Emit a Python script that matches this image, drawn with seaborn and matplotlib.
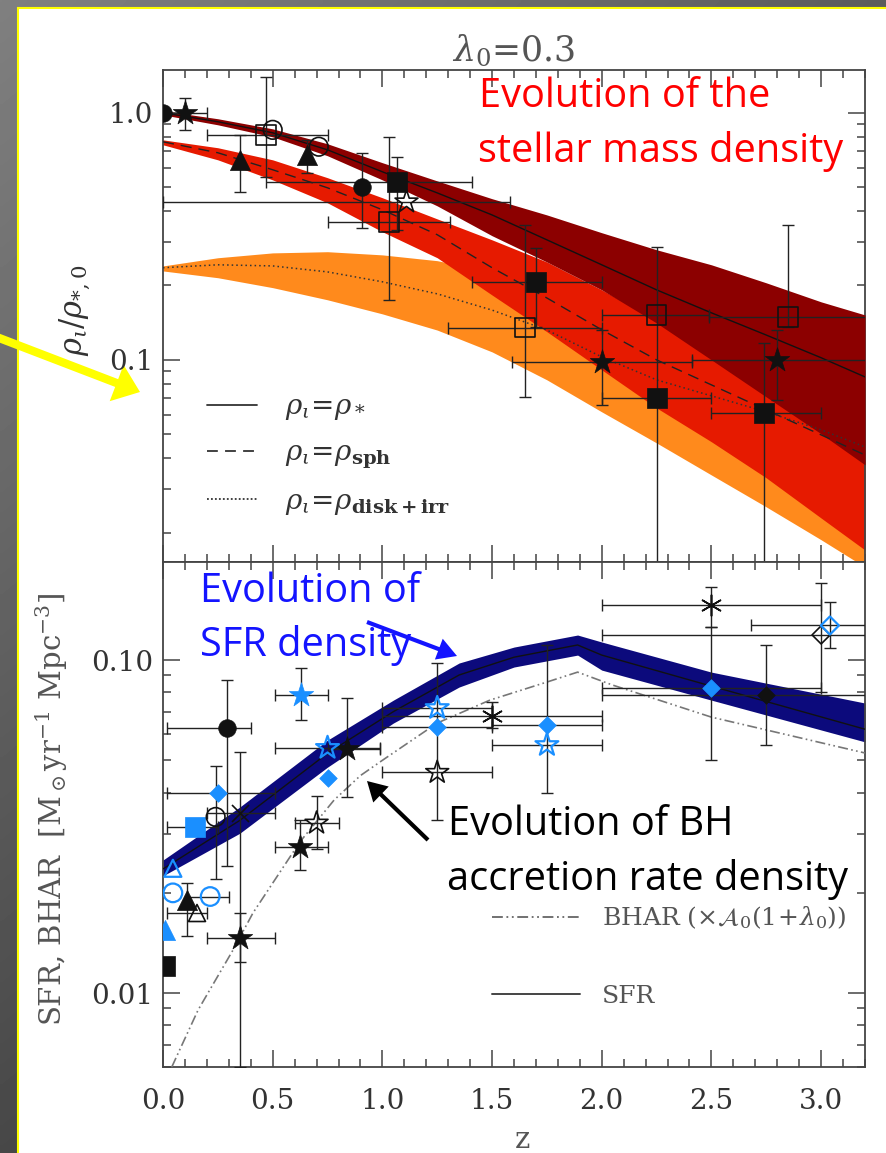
import numpy as np
import pandas as pd
import matplotlib
matplotlib.use("Agg")
import matplotlib.pyplot as plt
import seaborn as sns
from matplotlib.lines import Line2D
from matplotlib.patches import Rectangle
from matplotlib.ticker import FixedLocator, FixedFormatter, LogLocator, NullFormatter, MultipleLocator

# ---------------- data: top panel model bands (rho_i / rho_*,0) ----------------
band_z = [0.0, 0.25, 0.5, 0.75, 1.0, 1.25, 1.5, 1.75, 2.0, 2.25, 2.5, 2.75, 3.0, 3.2]
star_line = [1.0, 0.92, 0.83, 0.708, 0.577, 0.474, 0.386, 0.306, 0.2425, 0.192, 0.155, 0.126, 0.102, 0.0853]
star_hi = [1.019, 0.946, 0.861, 0.749, 0.628, 0.530, 0.449, 0.386, 0.327, 0.279, 0.2425, 0.205, 0.1717, 0.152]
star_lo = [0.981, 0.894, 0.799, 0.670, 0.535, 0.420, 0.318, 0.249, 0.192, 0.141, 0.100, 0.0708, 0.0502, 0.0376]
sph_line = [0.763, 0.689, 0.588, 0.497, 0.405, 0.321, 0.236, 0.178, 0.1323, 0.100, 0.0792, 0.0627, 0.0497, 0.0412]
sph_hi = [0.777, 0.722, 0.645, 0.546, 0.453, 0.372, 0.306, 0.249, 0.192, 0.145, 0.115, 0.0911, 0.0742, 0.0627]
sph_lo = [0.742, 0.645, 0.535, 0.432, 0.330, 0.259, 0.183, 0.130, 0.0911, 0.0639, 0.0466, 0.0333, 0.0229, 0.0170]
disk_line = [0.236, 0.2425, 0.240, 0.227, 0.207, 0.185, 0.159, 0.132, 0.1028, 0.083, 0.0715, 0.0616, 0.0521, 0.0444]
disk_hi = [0.240, 0.259, 0.271, 0.274, 0.266, 0.252, 0.227, 0.192, 0.159, 0.1386, 0.1205, 0.1047, 0.0911, 0.0814]
disk_lo = [0.229, 0.215, 0.196, 0.175, 0.1535, 0.132, 0.1077, 0.083, 0.0616, 0.0461, 0.0342, 0.0254, 0.0187, 0.0145]

# ---------------- data: bottom panel model curves ----------------
sfr_z = [0.0, 0.35, 0.75, 1.05, 1.35, 1.6, 1.89, 2.0, 2.5, 3.2]
sfr_line = [0.0236, 0.033, 0.0525, 0.070, 0.0902, 0.102, 0.111, 0.1035, 0.0835, 0.062]
sfr_hi = [0.0251, 0.0362, 0.0575, 0.0758, 0.098, 0.1094, 0.1189, 0.1133, 0.092, 0.0743]
sfr_lo = [0.0225, 0.0302, 0.0477, 0.0647, 0.083, 0.0953, 0.1035, 0.0933, 0.0758, 0.0568]
bhar_z = [0.04, 0.16, 0.32, 0.41, 0.625, 0.78, 0.90, 1.0, 1.25, 1.49, 1.75, 1.89, 2.05, 2.5, 3.2]
bhar_v = [0.0060, 0.0089, 0.0135, 0.0174, 0.0285, 0.038, 0.045, 0.050, 0.0647, 0.0758, 0.0859, 0.092, 0.0841, 0.0674, 0.0526]

# ---------------- data: top panel observations ----------------
nan = np.nan
top_z = [0.0, 0.10, 0.47, 0.50, 0.35, 0.655, 0.71, 0.905, 1.065, 1.11, 1.03, 1.70, 1.65, 2.0, 2.25, 2.25, 2.85, 2.80, 2.74]
top_v = [1.0, 1.0, 0.815, 0.853, 0.645, 0.676, 0.729, 0.502, 0.525, 0.436, 0.362, 0.207, 0.135, 0.098, 0.152, 0.070, 0.149, 0.100, 0.061]
top_kind = ['k_fci', 'k_fst', 'k_osq', 'k_oci', 'k_ftr', 'k_ftr', 'k_oci', 'k_fci', 'k_fsq', 'k_ost',
            'k_osq', 'k_fsq', 'k_osq', 'k_fst', 'k_osq', 'k_fsq', 'k_osq', 'k_fst', 'k_fsq']
top_xlo = [nan, 0.02, 0.20, nan, nan, nan, nan, nan, 0.47, 0.0, 0.75, 1.41, 1.30, 1.59, 2.0, 2.0, 2.49, 2.41, 2.5]
top_xhi = [nan, 0.20, 0.75, nan, nan, nan, nan, nan, 1.41, 1.58, 1.31, 2.0, 2.0, 2.41, 2.49, 2.5, 3.3, 3.3, 3.0]
top_ylo = [nan, 0.853, 0.551, nan, 0.48, 0.571, nan, 0.343, 0.336, nan, 0.175, 0.136, 0.0708, 0.0657, 0.005, nan, 0.136, 0.0689, 0.005]
top_yhi = [nan, 1.15, 1.40, nan, 0.815, 0.777, nan, 0.689, 0.66, nan, 0.80, 0.284, 0.352, 0.132, 0.287, nan, 0.352, 0.132, 0.117]

# ---------------- data: bottom panel observations ----------------
bot_z = [0.01, 0.01, 0.045, 0.045, 0.11, 0.155, 0.215, 0.35, 0.145, 0.24, 0.25, 0.29, 0.35, 0.63, 0.625,
         0.70, 0.75, 0.75, 0.84, 1.25, 1.25, 1.25, 1.5, 1.75, 1.75, 2.5, 2.5, 2.75, 3.0, 3.04]
bot_v = [0.0121, 0.0155, 0.0237, 0.0200, 0.019, 0.0174, 0.0195, 0.0146, 0.0315, 0.0338, 0.040, 0.0625, 0.0347,
         0.0785, 0.0275, 0.0324, 0.0545, 0.0443, 0.054, 0.0718, 0.063, 0.046, 0.068, 0.0638, 0.0556, 0.146,
         0.0824, 0.0785, 0.119, 0.127]
bot_kind = ['k_fsq', 'b_ftr', 'b_otr', 'b_oci', 'k_ftr', 'k_otr', 'b_oci', 'k_fst', 'b_fsq', 'k_oci', 'b_fdi',
            'k_fci', 'k_x', 'b_fst', 'k_fst', 'k_ost', 'b_ost', 'b_fdi', 'k_fst', 'b_ost', 'b_fdi', 'k_ost',
            'k_ast', 'b_fdi', 'b_ost', 'k_ast', 'b_fdi', 'k_fdi', 'k_odi', 'b_odi']
bot_xlo = [nan, nan, nan, nan, nan, 0.02, 0.11, 0.20, 0.02, nan, 0.02, 0.02, 0.20, 0.51, 0.51, 0.60, 0.51, nan,
           0.75, 1.0, 1.0, 1.0, 1.0, 1.5, 1.5, 2.0, 2.0, 2.0, 2.0, 2.68]
bot_xhi = [nan, nan, nan, nan, nan, 0.20, 0.30, 0.51, 0.25, nan, 0.51, 0.40, 0.51, 0.75, 0.75, 0.80, 0.99, nan,
           0.99, 1.5, 1.5, 1.5, 2.0, 2.0, 2.0, 3.0, 3.0, 3.5, 3.5, 3.5]
bot_ylo = [nan, nan, nan, nan, 0.0148, nan, nan, 0.0124, nan, 0.022, nan, 0.024, 0.006, 0.066, 0.0235, 0.027,
           nan, nan, 0.0388, nan, nan, 0.033, 0.0625, nan, 0.040, 0.1256, 0.050, 0.0556, 0.080, 0.109]
bot_yhi = [nan, nan, nan, nan, 0.0214, nan, nan, 0.0174, nan, 0.048, nan, 0.087, 0.053, 0.0946, 0.033, 0.039,
           nan, nan, 0.0769, nan, nan, 0.098, 0.0748, nan, 0.111, 0.166, 0.1256, 0.111, 0.170, 0.149]

x_ticks = [0.0, 0.5, 1.0, 1.5, 2.0, 2.5, 3.0]
x_tick_labels = ['0.0', '0.5', '1.0', '1.5', '2.0', '2.5', '3.0']
top_yticks = [0.1, 1.0]
top_ytick_labels = ['0.1', '1.0']
bot_yticks = [0.01, 0.1]
bot_ytick_labels = ['0.01', '0.10']

# ---------------- styling ----------------
sns.set_theme(style='ticks')
plt.rcParams['font.family'] = ['DejaVu Serif']
plt.rcParams['mathtext.fontset'] = 'dejavuserif'

TXT = '#333333'
BLUE = '#1a8fff'
COLORS = {'k': '#111111', 'b': BLUE}
SHAPES = {'fsq': ('s', True, 210), 'osq': ('s', False, 200), 'fci': ('o', True, 160), 'oci': ('o', False, 180),
          'ftr': ('^', True, 210), 'otr': ('^', False, 150), 'fst': ('*', True, 340), 'ost': ('*', False, 300),
          'fdi': ('D', True, 80), 'odi': ('D', False, 85), 'ast': ((6, 2, 0), False, 220), 'x': ('x', False, 150)}

W, H = 887, 1153
fig = plt.figure(figsize=(W / 100, H / 100), dpi=100)


def fx(x):
    return x / W


def fy(y):
    return 1 - y / H


# background frame
bg = fig.add_axes([0, 0, 1, 1], zorder=-10)
yy, xx = np.mgrid[0:H:4, 0:W:4]
grad = 0.50 - 0.22 * yy / H - 0.14 * xx / W
bg.imshow(grad, cmap='gray', vmin=0, vmax=1, extent=(0, W, H, 0), aspect='auto', interpolation='bilinear')
bg.add_patch(Rectangle((18.5, 7.5), W + 10, H + 10, facecolor='white', edgecolor='#ffff00', lw=1.5))
bg.set_xlim(0, W)
bg.set_ylim(H, 0)
bg.axis('off')
bg.annotate('', xy=(140, 392), xytext=(-6, 336),
            arrowprops=dict(arrowstyle='simple,head_length=1.8,head_width=2.8,tail_width=0.6',
                            color='#ffff00', lw=0, mutation_scale=10, shrinkA=0, shrinkB=0))

ax1 = fig.add_axes([fx(163), fy(562), (865 - 163) / W, (562 - 70) / H])
ax2 = fig.add_axes([fx(163), fy(1067), (865 - 163) / W, (1067 - 562) / H])


def setup(ax, yticks, ylabels, ylim, show_x):
    ax.set_yscale('log')
    ax.set_xlim(0, 3.2)
    ax.set_ylim(*ylim)
    ax.xaxis.set_major_locator(FixedLocator(x_ticks))
    ax.xaxis.set_major_formatter(FixedFormatter(x_tick_labels))
    ax.xaxis.set_minor_locator(MultipleLocator(0.1))
    ax.yaxis.set_major_locator(FixedLocator(yticks))
    ax.yaxis.set_major_formatter(FixedFormatter(ylabels))
    ax.yaxis.set_minor_locator(LogLocator(base=10, subs=np.arange(2, 10) * 1.0, numticks=30))
    ax.yaxis.set_minor_formatter(NullFormatter())
    ax.tick_params(which='both', direction='in', top=True, right=True, color='#444444', width=1.1,
                   labelcolor=TXT, labelsize=20)
    ax.tick_params(which='major', length=12)
    ax.tick_params(which='minor', length=6)
    ax.tick_params(axis='x', pad=15, labelbottom=show_x)
    ax.tick_params(axis='y', pad=7)
    for s in ax.spines.values():
        s.set_color('#444444')
        s.set_linewidth(1.3)


def draw_points(ax, z, v, kinds, xlo, xhi, ylo, yhi):
    z = np.asarray(z, float)
    v = np.asarray(v, float)
    xlo = np.asarray(xlo, float)
    xhi = np.asarray(xhi, float)
    ylo = np.asarray(ylo, float)
    yhi = np.asarray(yhi, float)
    mx = ~np.isnan(xlo)
    ax.errorbar(z[mx], v[mx], xerr=[z[mx] - xlo[mx], xhi[mx] - z[mx]], fmt='none', ecolor='#222222',
                elinewidth=1.0, capsize=4, capthick=1.0, zorder=5)
    my = ~np.isnan(ylo)
    ax.errorbar(z[my], v[my], yerr=[v[my] - ylo[my], yhi[my] - v[my]], fmt='none', ecolor='#222222',
                elinewidth=1.0, capsize=4, capthick=1.0, zorder=5)
    df = pd.DataFrame({'z': z, 'v': v, 'kind': kinds})
    for kind, sub in df.groupby('kind', sort=False):
        col = COLORS[kind.split('_')[0]]
        marker, filled, size = SHAPES[kind.split('_')[1]]
        lw = 1.6 if col == BLUE else 1.2
        if filled:
            sns.scatterplot(data=sub, x='z', y='v', ax=ax, marker=marker, s=size, color=col,
                            edgecolor=col, linewidth=0.5, zorder=6, legend=False)
        elif marker in ('x',) or isinstance(marker, tuple):
            sns.scatterplot(data=sub, x='z', y='v', ax=ax, marker=marker, s=size, color=col,
                            linewidth=lw, zorder=6, legend=False)
        else:
            sns.scatterplot(data=sub, x='z', y='v', ax=ax, marker=marker, s=size, color=col,
                            facecolor='none', edgecolor=col, linewidth=lw, zorder=6, legend=False)


# ---------------- top panel ----------------
setup(ax1, top_yticks, top_ytick_labels, (0.0152, 1.49), False)
ax1.fill_between(band_z, disk_lo, disk_hi, color='#ff8a1c', lw=0, zorder=1)
ax1.fill_between(band_z, sph_lo, sph_hi, color='#e61a00', lw=0, zorder=2)
ax1.fill_between(band_z, star_lo, star_hi, color='#8c0000', lw=0, zorder=3)
sns.lineplot(x=band_z, y=star_line, ax=ax1, color='#111111', lw=1.0, zorder=4, estimator=None, sort=False)
sns.lineplot(x=band_z, y=sph_line, ax=ax1, color='#222222', lw=1.0, linestyle=(0, (8, 5)), zorder=4,
             estimator=None, sort=False)
sns.lineplot(x=band_z, y=disk_line, ax=ax1, color='#333333', lw=1.1, linestyle=(0, (1, 2)), zorder=4,
             estimator=None, sort=False)
draw_points(ax1, top_z, top_v, top_kind, top_xlo, top_xhi, top_ylo, top_yhi)
ax1.set_title(r'$\lambda_0$=0.3', fontsize=25, color='#555555', pad=6)

h_top = [Line2D([], [], color='#333333', lw=1.3),
         Line2D([], [], color='#333333', lw=1.3, linestyle=(0, (6, 4))),
         Line2D([], [], color='#333333', lw=1.3, linestyle=(0, (1, 1.2)))]
lab_top = [r'$\rho_\iota\!=\!\rho_*$', r'$\rho_\iota\!=\!\rho_{\mathbf{sph}}$',
           r'$\rho_\iota\!=\!\rho_{\mathbf{disk+irr}}$']
leg1 = ax1.legend(h_top, lab_top, loc='upper left', bbox_to_anchor=(0.0627, 0.343), frameon=False,
                  fontsize=20, handlelength=1.8, handletextpad=1.0, labelspacing=0.62, borderpad=0,
                  borderaxespad=0)
for t in leg1.get_texts():
    t.set_color(TXT)

# ---------------- bottom panel ----------------
setup(ax2, bot_yticks, bot_ytick_labels, (0.006, 0.197), True)
ax2.fill_between(sfr_z, sfr_lo, sfr_hi, color='#0c0a7c', lw=0, zorder=2)
sns.lineplot(x=sfr_z, y=sfr_line, ax=ax2, color='#111111', lw=1.0, zorder=3, estimator=None, sort=False)
sns.lineplot(x=bhar_z, y=bhar_v, ax=ax2, color='#777777', lw=1.2, linestyle=(0, (6, 2, 1, 2, 1, 2)),
             zorder=3, estimator=None, sort=False)
draw_points(ax2, bot_z, bot_v, bot_kind, bot_xlo, bot_xhi, bot_ylo, bot_yhi)

h_bot = [Line2D([], [], color='#666666', lw=1.3, linestyle=(0, (6, 2, 1, 2, 1, 2))),
         Line2D([], [], color='#444444', lw=1.4)]
lab_bot = [r'BHAR $(\times\mathcal{A}_0(1\!+\!\lambda_0))$', 'SFR']
leg2 = ax2.legend(h_bot, lab_bot, loc='upper left', bbox_to_anchor=(0.4687, 0.322), frameon=False,
                  fontsize=18, handlelength=3.5, handletextpad=0.9, labelspacing=2.15, borderpad=0,
                  borderaxespad=0)
for t in leg2.get_texts():
    t.set_color('#555555')

for ax in (ax1, ax2):
    ax.set_xlabel('')
    ax.set_ylabel('')

# axis labels
fig.text(fx(75), fy(310), r'$\rho_\iota/\rho_{*,0}$', rotation=90, ha='center', va='center',
         fontsize=22, color=TXT)
fig.text(fx(52), fy(809), r'SFR, BHAR  [M$_\odot$yr$^{-1}$ Mpc$^{-3}$]', rotation=90, ha='center',
         va='center', fontsize=21, color='#555555')
fig.text(fx(522), fy(1140), 'z', ha='center', va='center', fontsize=21, color='#555555')

# annotations
ANN = ['Open Sans', 'DejaVu Sans']
AFS = 28.6
fig.text(fx(479), fy(107), 'Evolution of the', color='#ff0000', fontsize=AFS, family=ANN, va='baseline')
fig.text(fx(478), fy(162), 'stellar mass density', color='#ff0000', fontsize=AFS, family=ANN, va='baseline')
fig.text(fx(200), fy(602), 'Evolution of', color='#1414ff', fontsize=AFS, family=ANN, va='baseline')
fig.text(fx(200), fy(656), 'SFR density', color='#1414ff', fontsize=AFS, family=ANN, va='baseline')
fig.text(fx(448), fy(835), 'Evolution of BH', color='#000000', fontsize=AFS, family=ANN, va='baseline')
fig.text(fx(447), fy(890), 'accretion rate density', color='#000000', fontsize=AFS, family=ANN, va='baseline')

ax2.annotate('', xy=(457, H - 656), xycoords='figure pixels', xytext=(367, H - 622), textcoords='figure pixels',
             arrowprops=dict(arrowstyle='simple,head_length=1.4,head_width=1.6,tail_width=0.3',
                             color='#1414ff', lw=0, mutation_scale=10, shrinkA=0, shrinkB=0),
             annotation_clip=False, zorder=10)
ax2.annotate('', xy=(367, H - 781), xycoords='figure pixels', xytext=(428, H - 840), textcoords='figure pixels',
             arrowprops=dict(arrowstyle='simple,head_length=1.4,head_width=1.6,tail_width=0.3',
                             color='#000000', lw=0, mutation_scale=10, shrinkA=0, shrinkB=0),
             annotation_clip=False, zorder=10)

fig.savefig('out.png', dpi=100)
